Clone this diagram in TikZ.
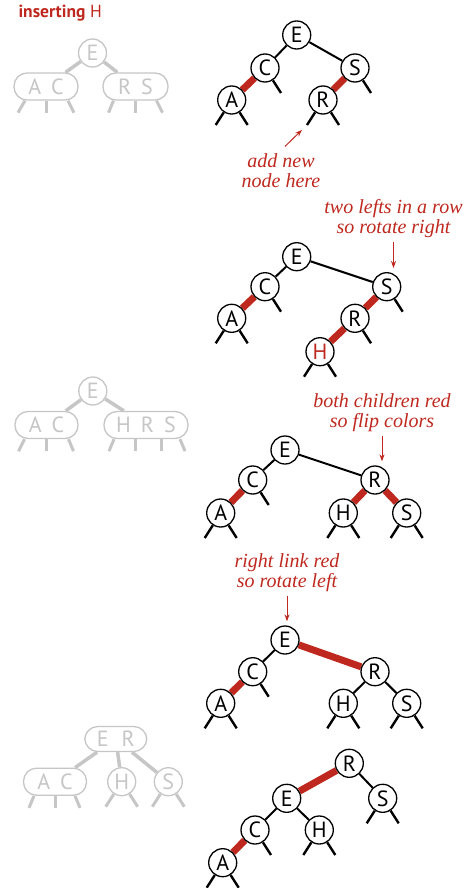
\documentclass[tikz,border=0pt]{standalone}
\usepackage{fontspec}
\setmainfont{Liberation Serif}
\newfontfamily\keyfamily{PT Sans}
\usetikzlibrary{arrows.meta,backgrounds}
\definecolor{LinkRed}{RGB}{190,40,30}
\definecolor{GhostGray}{RGB}{198,198,198}

\begin{document}
\begin{tikzpicture}[x=1pt,y=-1pt,
    key/.style={circle,draw=black,fill=white,line width=1.3pt,
                minimum size=28pt,inner sep=0pt,
                font=\keyfamily\fontsize{22}{22}\selectfont},
    newkey/.style={key,text=LinkRed},
    ghost/.style={circle,draw=GhostGray,fill=white,line width=1.3pt,
                  text=GhostGray,minimum size=28pt,inner sep=0pt,
                  font=\keyfamily\fontsize{22}{22}\selectfont},
    ghostbox/.style={ghost,rectangle,rounded corners=13pt,minimum height=27pt},
    link/.style={draw=black,line width=2pt},
    redlink/.style={draw=LinkRed,line width=7pt},
    leg/.style={draw=black,line width=2.4pt},
    glink/.style={draw=GhostGray,line width=3.5pt},
    gleg/.style={draw=GhostGray,line width=3pt},
    note/.style={text=LinkRed,align=center,
                 font=\itshape\fontsize{20}{20}\selectfont},
    pointer/.style={draw=LinkRed,line width=1pt,
                    -{Stealth[length=7pt,width=5pt]}}
  ]
  \useasboundingbox (0,0) rectangle (476,888);

  \node[anchor=base west,text=LinkRed,
        font=\keyfamily\fontsize{17.5}{17.5}\selectfont] (title) at (15,18)
    {\textbf{inserting} H};

  % ghost 2-3 trees
  \node[ghost] (ge1) at (92.5,53) {E};
  \node[ghostbox,minimum width=64pt] (gac1) at (46,86.5) {A\hspace{10pt}C};
  \node[ghostbox,minimum width=65pt] (grs1) at (135.5,86.5) {R\hspace{10pt}S};
  \node[ghost] (ge3) at (92.8,391) {E};
  \node[ghostbox,minimum width=63pt] (gac3) at (46.5,425) {A\hspace{10pt}C};
  \node[ghostbox,minimum width=84pt] (ghrs3) at (146,425)
    {H\hspace{10pt}R\hspace{10pt}S};
  \node[ghostbox,minimum width=62pt,minimum height=25pt] (ger5) at (115.8,739)
    {E\hspace{13pt}R};
  \node[ghostbox,minimum width=63pt] (gac5) at (55,781.7) {A\hspace{10pt}C};
  \node[ghost] (gh5) at (121.7,781.7) {H};
  \node[ghost] (gs5) at (168.3,781.7) {S};

  % step 1
  \node[key] (e1) at (296.7,35) {E};
  \node[key] (c1) at (265,68) {C};
  \node[key] (a1) at (231.7,100) {A};
  \node[key] (s1) at (355,68) {S};
  \node[key] (r1) at (323,100) {R};
  \path (r1) ++(-16,25) coordinate (new);
  \node[note] (note1) at (281,171) {add new\\node here};

  % step 2
  \node[key] (e2) at (296.7,256.7) {E};
  \node[key] (c2) at (265,286.7) {C};
  \node[key] (a2) at (231.7,318.3) {A};
  \node[key] (s2) at (386.7,286.7) {S};
  \node[key] (r2) at (355,318.3) {R};
  \node[newkey] (h2) at (320,351.7) {H};
  \node[note] (note2) at (393.5,219) {two lefts in a row\\so rotate right};

  % step 3
  \node[key] (e3) at (285,450) {E};
  \node[key] (c3) at (252.7,480) {C};
  \node[key] (a3) at (220.7,513) {A};
  \node[key] (r3) at (375,480) {R};
  \node[key] (h3) at (343.3,513) {H};
  \node[key] (s3) at (406.7,513) {S};
  \node[note] (note3) at (382,413) {both children red\\so flip colors};

  % step 4
  \node[key] (e4) at (285,640) {E};
  \node[key] (c4) at (252.7,671.7) {C};
  \node[key] (a4) at (220.7,703.3) {A};
  \node[key] (r4) at (375,671.7) {R};
  \node[key] (h4) at (343.3,703.3) {H};
  \node[key] (s4) at (406.7,703.3) {S};
  \node[note] (note4) at (287,573) {right link red\\so rotate left};

  % step 5
  \node[key] (r5) at (349.3,763.3) {R};
  \node[key] (e5) at (286.7,798.3) {E};
  \node[key] (s5) at (382.7,798.3) {S};
  \node[key] (c5) at (255,830) {C};
  \node[key] (h5) at (319.3,830) {H};
  \node[key] (a5) at (222.7,862.7) {A};

  \begin{scope}[on background layer]
    \draw[glink] (ge1) -- (gac1);
    \draw[glink] (ge1) -- (grs1);
    \draw[glink] (ge3) -- (gac3);
    \draw[glink] (ge3) -- (ghrs3);
    \draw[glink] (ger5) -- (gac5);
    \draw[glink] (ger5) -- (gh5);
    \draw[glink] (ger5) -- (gs5);

    \draw[link] (e1) -- (c1);
    \draw[redlink] (c1) -- (a1);
    \draw[link] (e1) -- (s1);
    \draw[redlink] (s1) -- (r1);

    \draw[link] (e2) -- (c2);
    \draw[redlink] (c2) -- (a2);
    \draw[link] (e2) -- (s2);
    \draw[redlink] (s2) -- (r2);
    \draw[redlink] (r2) -- (h2);

    \draw[link] (e3) -- (c3);
    \draw[redlink] (c3) -- (a3);
    \draw[link] (e3) -- (r3);
    \draw[redlink] (r3) -- (h3);
    \draw[redlink] (r3) -- (s3);

    \draw[link] (e4) -- (c4);
    \draw[redlink] (c4) -- (a4);
    \draw[redlink] (e4) -- (r4);
    \draw[link] (r4) -- (h4);
    \draw[link] (r4) -- (s4);

    \draw[redlink] (r5) -- (e5);
    \draw[link] (r5) -- (s5);
    \draw[link] (e5) -- (c5);
    \draw[link] (e5) -- (h5);
    \draw[redlink] (c5) -- (a5);
  \end{scope}

  % null links
  \foreach \n in {a1,r1,a2,h2,a3,h3,s3,a4,h4,s4,a5,h5,s5}
    \draw[leg] (\n) -- +(-16,25);
  \foreach \n in {c1,s1,a1,r1,c2,s2,r2,a2,h2,c3,a3,h3,s3,c4,a4,h4,s4,c5,a5,h5,s5}
    \draw[leg] (\n) -- +(16,25);

  % ghost null links
  \foreach \g/\dx/\ex in {gac1/-21/-7,gac1/0/0,gac1/22/6,
                          grs1/-22/-5,grs1/0/0,grs1/21/6,
                          gac3/-22/-6,gac3/0/0,gac3/22/5,
                          ghrs3/-32/-5,ghrs3/-11/0,ghrs3/15/0,ghrs3/34/5,
                          gac5/-21/-5,gac5/0/0,gac5/20/5}
    \draw[gleg] ([xshift=\dx pt]\g.south) -- +(\ex,12);
  \foreach \g in {gh5,gs5} {
    \draw[gleg] (\g) -- +(-16,25);
    \draw[gleg] (\g) -- +(16,25);
  }

  % notes
  \draw[pointer,shorten >=7pt] ([xshift=4pt,yshift=4pt]note1.north) -- (new);
  \draw[pointer,shorten >=4pt] (note2.south) -- (note2.south |- s2.north);
  \draw[pointer,shorten >=4pt] (note3.south) -- (note3.south |- r3.north);
  \draw[pointer,shorten >=4pt] (note4.south) -- (note4.south |- e4.north);
\end{tikzpicture}
\end{document}
